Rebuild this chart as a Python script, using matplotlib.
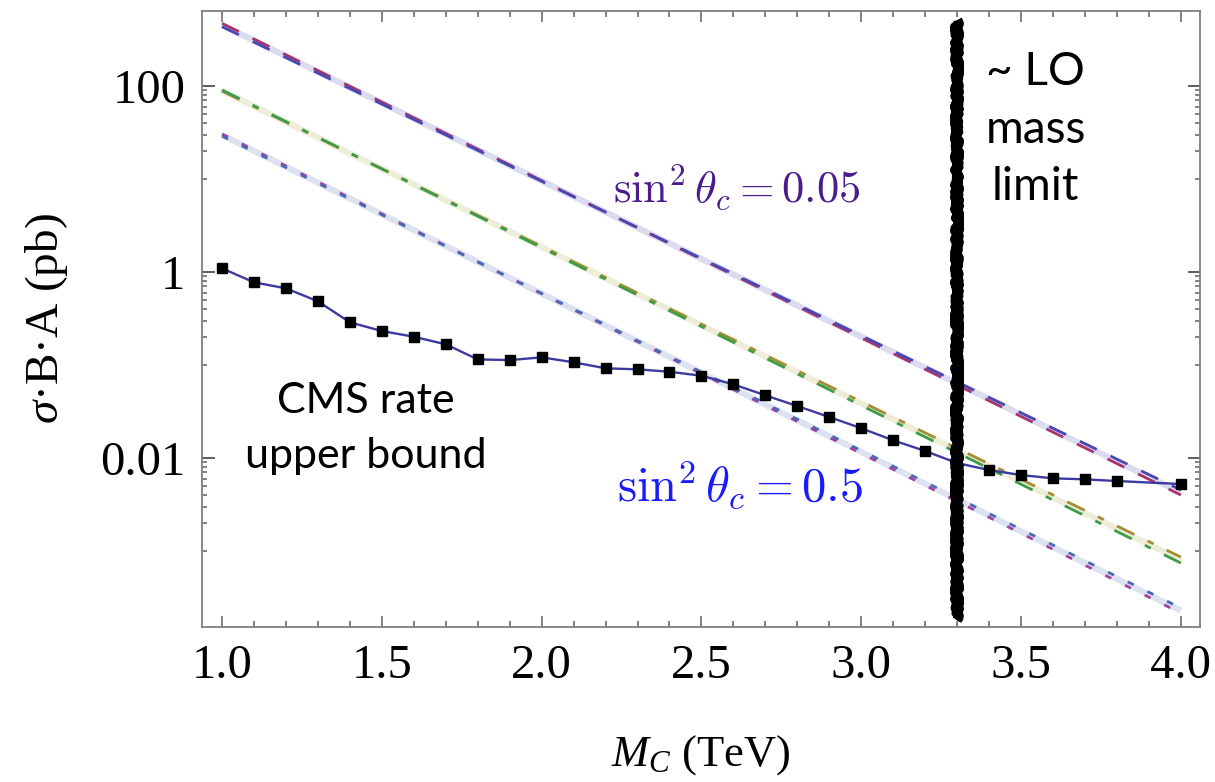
import numpy as np
import matplotlib
matplotlib.use('Agg')
import matplotlib.pyplot as plt
from matplotlib.ticker import FixedLocator, NullFormatter

plt.rcParams['font.family'] = ['Liberation Serif', 'DejaVu Serif']
plt.rcParams['mathtext.fontset'] = 'custom'
plt.rcParams['mathtext.rm'] = 'Liberation Serif'
plt.rcParams['mathtext.it'] = 'Liberation Serif:italic'
plt.rcParams['lines.scale_dashes'] = False

# theory curves, sigma*B*A in pb, read every 0.5 TeV
mass = [1.0, 1.5, 2.0, 2.5, 3.0, 3.5, 4.0]
sin005Red = [472, 67.3, 9.62, 1.371, 0.196, 0.0280, 0.0040]
sin005Blue = [435, 64.1, 9.46, 1.40, 0.207, 0.0306, 0.00453]
sin01Green = [90.6, 12.85, 1.827, 0.2596, 0.0368, 0.00522, 0.000743]
sin01Olive = [88.3, 12.9, 1.89, 0.275, 0.0403, 0.00589, 0.000861]
sin05Purple = [30.5, 4.22, 0.585, 0.0810, 0.01122, 0.00155, 0.000215]
sin05Blue = [29.0, 4.13, 0.589, 0.0839, 0.0120, 0.00171, 0.000244]

# CMS observed upper bound
cmsMass = [1.0, 1.1, 1.2, 1.3, 1.4, 1.5, 1.6, 1.7, 1.8, 1.9, 2.0, 2.1, 2.2, 2.3,
           2.4, 2.5, 2.6, 2.7, 2.8, 2.9, 3.0, 3.1, 3.2, 3.3, 3.4, 3.5, 3.6, 3.7,
           3.8, 4.0]
cmsLimit = [1.096, 0.775, 0.668, 0.484, 0.288, 0.232, 0.2015, 0.167, 0.115, 0.113,
            0.121, 0.107, 0.0922, 0.0899, 0.0847, 0.0767, 0.0620, 0.0472, 0.0362,
            0.0276, 0.0209, 0.0155, 0.0119, 0.00883, 0.00743, 0.00656, 0.00605,
            0.00590, 0.00566, 0.00525]

# leading-order mass limit
loMassLimit = 3.3
loBandRange = [1.8e-4, 510]

xTicks = [1.0, 1.5, 2.0, 2.5, 3.0, 3.5, 4.0]
yTicks = [100, 1, 0.01]
yTickLabels = ['100', '1', '0.01']


def drawPair(ax, first, second, colours, band, dashes, lw=2.0):
    mid = np.sqrt(np.array(first) * np.array(second))
    ax.plot(mass, mid, color=band, lw=4.5, solid_capstyle='butt', zorder=1)
    ax.plot(mass, first, color=colours[0], lw=lw, dashes=dashes, zorder=2)
    ax.plot(mass, second, color=colours[1], lw=lw, dashes=dashes, zorder=2)


def setupAxes(ax):
    ax.set_xlim(0.9375, 4.06)
    ax.set_ylim(10 ** -3.817, 10 ** 2.81)
    ax.set_yscale('log')

    ax.xaxis.set_major_locator(FixedLocator(xTicks))
    ax.xaxis.set_minor_locator(FixedLocator(np.arange(1.0, 4.05, 0.1)))
    ax.set_xticklabels(['%.1f' % t for t in xTicks])

    minors = []
    for major in yTicks:
        minors += [major * k / 10 for k in range(1, 10)]
    ax.yaxis.set_major_locator(FixedLocator(yTicks))
    ax.yaxis.set_minor_locator(FixedLocator(minors))
    ax.set_yticklabels(yTickLabels)
    ax.yaxis.set_minor_formatter(NullFormatter())

    for spine in ax.spines.values():
        spine.set_color('#808080')
        spine.set_linewidth(1.3)
    ax.tick_params(which='both', direction='in', top=True, right=True,
                   color='#606060', width=1.1, labelsize=35)
    ax.tick_params(axis='x', which='major', length=8, pad=12)
    ax.tick_params(axis='x', which='minor', length=4.5)
    ax.tick_params(axis='y', which='major', length=9, color='#303030', pad=12)
    ax.tick_params(axis='y', which='minor', length=3.5)

    ax.set_xlabel(r'$M_C$ (TeV)', fontsize=32, labelpad=33)
    ax.set_ylabel(r'$\sigma$·B·A (pb)', fontsize=34, labelpad=22)


fig = plt.figure(figsize=(12.15, 7.82), dpi=100)
ax = fig.add_axes([0.1663, 0.1982, 0.8214, 0.7881])
setupAxes(ax)

drawPair(ax, sin005Red, sin005Blue, ['#a8346e', '#4747b5'], '#dcdcf0', (13.5, 11.0))
drawPair(ax, sin01Olive, sin01Green, ['#a48e35', '#3c9c48'], '#eeedda',
         (14.0, 10.5, 4.8, 10.5))
drawPair(ax, sin05Purple, sin05Blue, ['#a3419f', '#4a69b5'], '#dde2f1', (4.8, 11.0))

ax.plot(cmsMass, cmsLimit, color='#3b3b9f', lw=1.7, zorder=3)
ax.plot([m for m in cmsMass if m != loMassLimit],
        [v for m, v in zip(cmsMass, cmsLimit) if m != loMassLimit],
        ls='none', marker='s', ms=7, color='black', zorder=4)

# rough vertical band for the mass limit
for lw in [7.0, 5.5, 3.5]:
    band, = ax.plot([loMassLimit, loMassLimit], loBandRange, color='black', lw=lw,
                    solid_capstyle='butt', zorder=5)
    band.set_sketch_params(scale=2.2, length=2, randomness=10)

ax.text(2.61, 8.2, r'$\sin^2\theta_c = 0.05$', color='#4b1c8c', fontsize=32,
        math_fontfamily='cm', ha='center', va='center')
ax.text(2.62, 0.0051, r'$\sin^2\theta_c = 0.5$', color='#1a1aff', fontsize=35,
        math_fontfamily='cm', ha='center', va='center')
ax.text(3.545, 34, '~ LO\nmass\nlimit', family=['Lato', 'DejaVu Sans'], fontsize=33,
        ha='center', va='center', multialignment='center', linespacing=1.45)
ax.text(1.45, 0.021, 'CMS rate\nupper bound', family=['Lato', 'DejaVu Sans'],
        fontsize=31, ha='center', va='center', multialignment='center',
        linespacing=1.55)

fig.savefig('out.png', dpi=100)
